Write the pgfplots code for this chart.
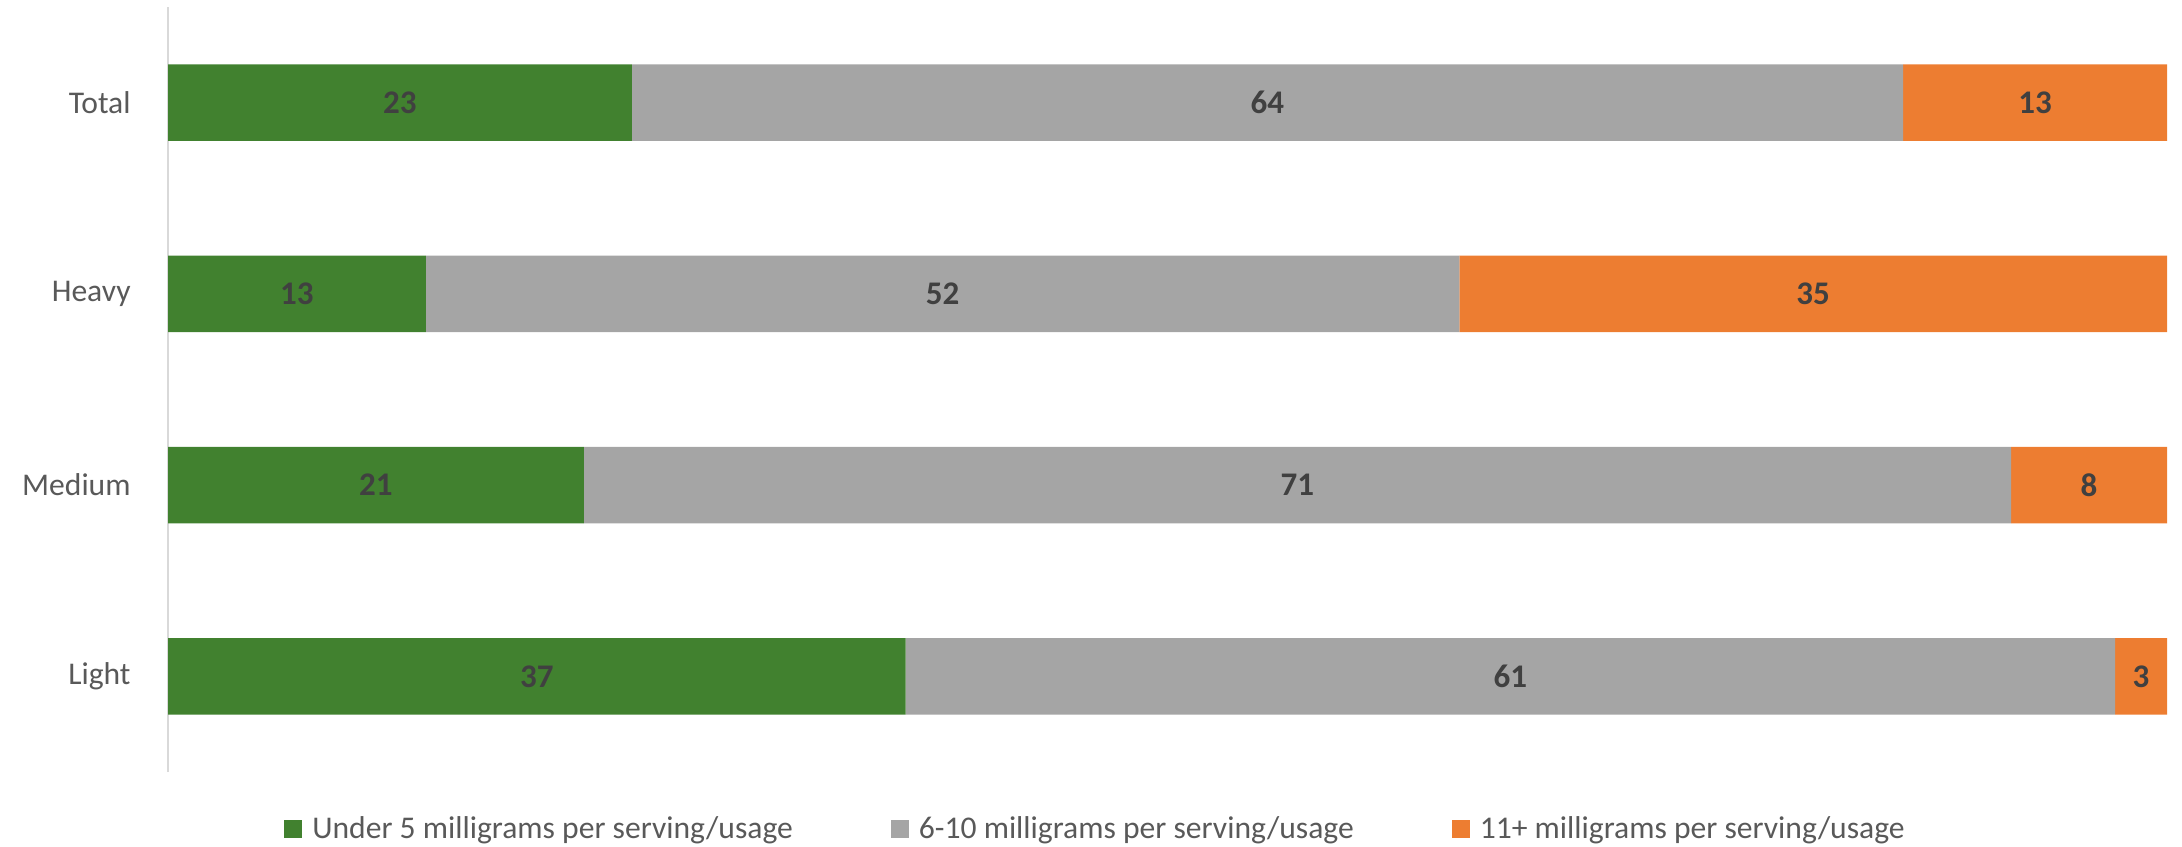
\documentclass[border=0pt]{standalone}
\usepackage{pgfplots}
\pgfplotsset{compat=1.18}
\usepackage{fontspec}
\setmainfont{Carlito}
\definecolor{cgreen}{HTML}{41812F}
\definecolor{cgray}{HTML}{A5A5A5}
\definecolor{corange}{HTML}{ED7D31}
\definecolor{labcol}{HTML}{404040}
\definecolor{tickcol}{HTML}{595959}
\definecolor{axcol}{HTML}{D9D9D9}
\pgfplotsset{common/.style={
  scale only axis,
  width=999.5pt, height=382.5pt,
  xmin=0, xmax=100,
  ymin=-0.5, ymax=3.5}}
\begin{document}
\begin{tikzpicture}
\useasboundingbox (-84pt,-37pt) rectangle (1007pt,386pt);
\begin{axis}[
  common,
  xbar stacked,
  bar width=38.25pt,
  axis x line=none,
  axis y line*=left,
  axis line style={axcol, line width=1pt},
  ytick={0,1,2,3},
  yticklabels={Light,Medium,Heavy,Total},
  major tick length=0pt,
  yticklabel style={font=\fontsize{15.8}{18}\selectfont, text=tickcol, inner sep=0pt, xshift=-18.5pt},
  legend columns=3,
  legend style={draw=none, fill=none, at={(0.4645,-0.0745)}, anchor=center,
    font=\fontsize{15.8}{18}\selectfont, text=tickcol,
    /tikz/every even column/.append style={column sep=47pt},
    /tikz/every odd column/.append style={column sep=3pt}},
  legend image code/.code={\fill[#1] (0pt,-4.5pt) rectangle (9pt,4.5pt);},
]
\addplot[fill=cgreen, draw=none] coordinates {(36.9,0) (20.8,1) (12.9,2) (23.2,3)};
\addplot[fill=cgray, draw=none] coordinates {(60.5,0) (71.4,1) (51.7,2) (63.6,3)};
\addplot[fill=corange, draw=none] coordinates {(2.6,0) (7.8,1) (35.4,2) (13.2,3)};
\legend{Under 5 milligrams per serving/usage, 6-10 milligrams per serving/usage, 11+ milligrams per serving/usage}
\end{axis}
\begin{axis}[
  common,
  hide axis,
  point meta=explicit symbolic,
  nodes near coords={\pgfplotspointmeta},
  every node near coord/.append style={anchor=center, inner sep=0pt, font=\fontsize{16.5}{19}\selectfont\bfseries, text=labcol},
]
% segment midpoints
\addplot[draw=none, mark=none] coordinates {(18.45,0) [37] (10.4,1) [21] (6.45,2) [13] (11.6,3) [23]};
\addplot[draw=none, mark=none] coordinates {(67.15,0) [61] (56.5,1) [71] (38.75,2) [52] (55.0,3) [64]};
\addplot[draw=none, mark=none] coordinates {(98.7,0) [3] (96.1,1) [8] (82.3,2) [35] (93.4,3) [13]};
\end{axis}
\end{tikzpicture}
\end{document}
